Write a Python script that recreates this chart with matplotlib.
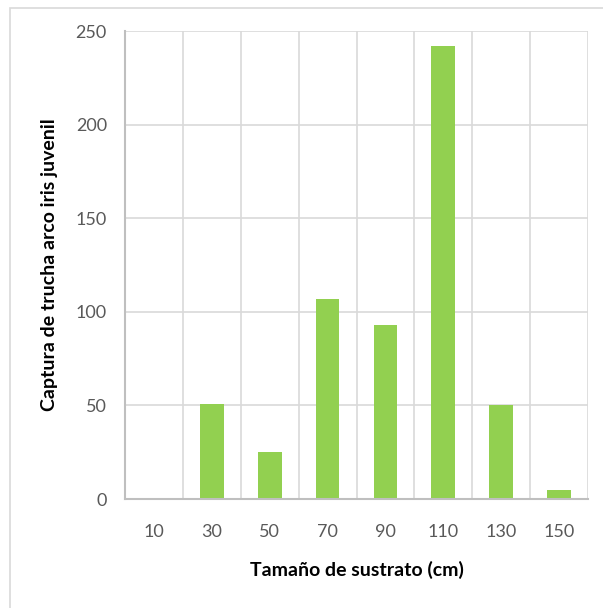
import matplotlib
matplotlib.use("Agg")
import matplotlib.pyplot as plt
from matplotlib.patches import Rectangle

categories = ["10", "30", "50", "70", "90", "110", "130", "150"]
values = [0, 51, 25, 107, 93, 242, 50, 5]
yticks = [0, 50, 100, 150, 200, 250]

plt.rcParams['font.family'] = ['Lato', 'DejaVu Sans']

fig = plt.figure(figsize=(6.03, 6.08), dpi=100)
ax = fig.add_axes([125/603, 1-499/608, 463/603, 468/608])

x = list(range(len(categories)))
ax.bar(x, values, width=0.41, color='#92D050', zorder=3)
ax.set_xlim(-0.5, len(categories) - 0.5)
ax.set_ylim(0, 250)
ax.set_yticks(yticks)
ax.set_xticks(x)
ax.set_xticklabels(categories)
# vertical gridlines at category boundaries
ax.set_xticks([i + 0.5 for i in range(-1, len(categories))], minor=True)
ax.grid(True, which='minor', axis='x', color='#D9D9D9', lw=1.2, zorder=0)
ax.grid(True, which='major', axis='y', color='#D9D9D9', lw=1.2, zorder=0)
ax.tick_params(which='both', length=0)
ax.tick_params(axis='y', pad=13, labelsize=13, labelcolor='#595959')
ax.tick_params(axis='x', pad=18, labelsize=13, labelcolor='#595959')
for s in ['top', 'right']:
    ax.spines[s].set_visible(False)
for s in ['left', 'bottom']:
    ax.spines[s].set_color('#BFBFBF')
    ax.spines[s].set_linewidth(1.5)
ax.spines['left'].set_zorder(4)
ax.spines['bottom'].set_zorder(4)

ax.set_xlabel('Tamaño de sustrato (cm)', fontsize=14, fontweight='bold', labelpad=15)
ax.set_ylabel('Captura de trucha arco iris juvenil', fontsize=14, fontweight='bold', labelpad=13)

fig.patches.append(Rectangle((10/603, -0.1), 1.2, 1 - 8/608 + 0.1, transform=fig.transFigure,
                             fill=False, edgecolor='#D9D9D9', lw=1.2))

fig.savefig('out.png', dpi=100)
